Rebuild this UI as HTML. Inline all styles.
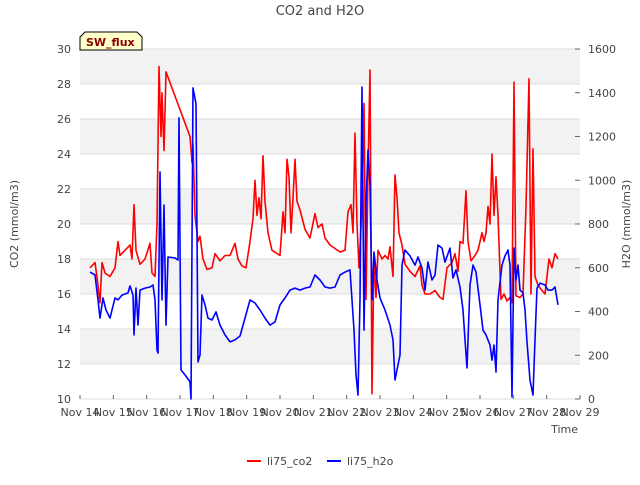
<!DOCTYPE html>
<html><head><meta charset="utf-8"><style>
body{margin:0;background:#fff;font-family:"Liberation Sans","DejaVu Sans",sans-serif}
svg text{font-family:"DejaVu Sans","Liberation Sans",sans-serif;fill:#444}
</style></head><body>
<svg id="chart" width="640" height="480">
<text x="320" y="15" text-anchor="middle" font-size="13">CO2 and H2O</text>
<g id="bands"></g><g id="grid"></g>
<g id="series"></g>
<g id="axes"></g>
<g>
<path d="M80,50 L80,37 L85,32 L137,32 L142,37 L142,50 Z" fill="#ffffcc" stroke="#000" stroke-width="1"/>
<text x="86" y="46" font-size="11" font-weight="bold" style="fill:#8b0000">SW_flux</text>
</g>
<text transform="translate(18,224) rotate(-90)" text-anchor="middle" font-size="11">CO2 (mmol/m3)</text>
<text transform="translate(630,224) rotate(-90)" text-anchor="middle" font-size="11">H2O (mmol/m3)</text>
<text x="578" y="433" text-anchor="end" font-size="11">Time</text>
<g><line x1="247" y1="461" x2="261" y2="461" stroke="#f00" stroke-width="2"/><text x="267" y="465" font-size="11">li75_co2</text></g>
<g><line x1="327" y1="461" x2="341" y2="461" stroke="#00f" stroke-width="2"/><text x="347" y="465" font-size="11">li75_h2o</text></g>
</svg>
<script>
const xTickLabels=["Nov 14","Nov 15","Nov 16","Nov 17","Nov 18","Nov 19","Nov 20","Nov 21","Nov 22","Nov 23","Nov 24","Nov 25","Nov 26","Nov 27","Nov 28","Nov 29"];
const leftTicks=[10,12,14,16,18,20,22,24,26,28,30];
const rightTicks=[0,200,400,600,800,1000,1200,1400,1600];
const co2Days=[0.3,0.45,0.54,0.6,0.66,0.75,0.9,1.05,1.14,1.2,1.35,1.5,1.56,1.62,1.68,1.8,1.95,2.1,2.16,2.25,2.31,2.37,2.43,2.46,2.52,2.58,3.3,3.36,3.39,3.45,3.54,3.6,3.69,3.81,3.96,4.05,4.2,4.35,4.5,4.65,4.74,4.86,4.98,5.1,5.19,5.25,5.31,5.37,5.43,5.49,5.55,5.64,5.76,6.0,6.09,6.15,6.21,6.27,6.33,6.39,6.45,6.51,6.6,6.75,6.9,7.05,7.14,7.26,7.35,7.5,7.65,7.8,7.95,8.04,8.13,8.19,8.25,8.31,8.37,8.46,8.52,8.58,8.64,8.7,8.76,8.82,8.88,8.94,9.06,9.15,9.24,9.3,9.39,9.45,9.51,9.57,9.66,9.75,9.9,10.05,10.2,10.26,10.35,10.5,10.65,10.8,10.89,11.01,11.16,11.25,11.34,11.4,11.49,11.58,11.64,11.73,11.85,11.94,12.06,12.12,12.18,12.24,12.3,12.36,12.42,12.48,12.54,12.63,12.72,12.81,12.9,12.96,13.02,13.08,13.2,13.29,13.38,13.47,13.53,13.59,13.65,13.74,13.86,13.95,14.07,14.16,14.25,14.34];
const co2Values=[17.5,17.8,16.5,15.5,17.8,17.2,17,17.5,19,18.2,18.5,18.8,18,21.1,18.5,17.7,18,18.9,17.2,17,20,29,25,27.5,24.2,28.7,25,23.5,24.6,20.5,19,19.3,18,17.4,17.5,18.3,17.9,18.2,18.2,18.9,18,17.6,17.5,19,20.3,22.5,20.5,21.5,20.3,23.9,21.3,19.5,18.5,18.2,20.7,19.5,23.7,22.7,19.5,21.5,23.7,21.3,20.8,19.7,19.2,20.6,19.8,20,19.2,18.8,18.6,18.4,18.5,20.7,21.1,19.5,25.2,20,17.5,21,26.9,15.7,23,28.8,10.3,18.2,15.8,18.5,18,18.2,18,18.7,17,22.8,21.5,19.5,18.8,17.7,17.3,17,17.6,16.5,16,16,16.2,15.8,15.7,17.5,17.8,18.3,17.3,19,18.9,21.9,19,17.9,18.2,18.5,19.5,19,19.5,21,20,24,20.5,22.7,20.5,15.7,16,15.6,15.8,15.5,28.1,15.9,15.8,16,21,28.3,16,24.3,17,16.5,16.2,16,18,17.5,18.3,18];
const h2oDays=[0.3,0.45,0.54,0.6,0.69,0.78,0.9,1.05,1.14,1.26,1.44,1.5,1.59,1.62,1.68,1.74,1.8,1.95,2.1,2.19,2.25,2.31,2.34,2.4,2.46,2.52,2.58,2.64,2.85,2.94,2.97,3.03,3.15,3.3,3.33,3.39,3.48,3.54,3.6,3.66,3.75,3.84,3.96,4.08,4.2,4.35,4.5,4.65,4.8,4.95,5.1,5.25,5.4,5.55,5.7,5.85,6.0,6.15,6.3,6.45,6.6,6.75,6.9,7.05,7.2,7.35,7.5,7.65,7.8,7.95,8.1,8.16,8.22,8.28,8.34,8.4,8.46,8.52,8.58,8.64,8.7,8.76,8.82,8.91,9.0,9.15,9.3,9.39,9.45,9.51,9.6,9.66,9.75,9.9,10.05,10.14,10.26,10.35,10.44,10.56,10.65,10.74,10.86,10.95,11.1,11.19,11.28,11.4,11.49,11.55,11.61,11.7,11.79,11.88,12.0,12.09,12.18,12.3,12.36,12.42,12.48,12.54,12.66,12.75,12.84,12.9,12.96,13.02,13.08,13.14,13.2,13.29,13.35,13.41,13.5,13.59,13.65,13.71,13.8,13.95,14.04,14.16,14.25,14.34];
const h2oValues=[580,567,453,370,462,407,370,462,453,475,485,517,475,293,507,338,498,507,512,521,453,224,210,1038,453,887,338,649,645,635,1285,133,110,78,0,1422,1349,169,201,475,430,370,361,398,338,293,261,270,288,370,453,439,407,370,338,352,430,462,498,507,498,507,512,567,544,512,507,512,567,580,590,453,315,110,18,453,1426,315,887,1138,978,453,672,544,462,407,338,270,87,133,201,612,681,654,612,649,599,498,626,544,567,704,690,626,690,553,590,512,407,270,142,521,612,580,430,315,293,247,178,247,123,453,612,654,681,612,9,690,544,612,498,485,407,261,87,18,270,507,530,521,498,498,512,430];

const NS="http://www.w3.org/2000/svg";
const L=80,R=580,T=49,B=399;
const xs=d=>L+(R-L)*d/15;
const yl=v=>B-(B-T)*(v-10)/20;
const yr=v=>B-(B-T)*v/1600;
function mk(tag,attrs,parent){const e=document.createElementNS(NS,tag);for(const k in attrs)e.setAttribute(k,attrs[k]);document.getElementById(parent).appendChild(e);return e;}
// bands
for(let v=12;v<30;v+=4){
 const b=mk('rect',{x:L,y:yl(v+2),width:R-L,height:yl(v)-yl(v+2),fill:'#f2f2f2'},'bands');
 
 
}
leftTicks.forEach(v=>{
 const g=mk('line',{x1:L,x2:R,y1:yl(v),y2:yl(v),stroke:'#dcdcdc','stroke-width':1},'grid');
 
 
 const t=mk('text',{x:L-9,y:yl(v)+4,'text-anchor':'end','font-size':11},'axes');t.textContent=v;
 
 
});
rightTicks.forEach(v=>{
 const t=mk('text',{x:R+8,y:yr(v)+4,'font-size':11},'axes');t.textContent=v;
 
 
 mk('line',{x1:R,x2:R-5,y1:yr(v),y2:yr(v),stroke:'#666'},'axes');
});
xTickLabels.forEach((s,i)=>{
 const t=mk('text',{x:xs(i),y:416,'text-anchor':'middle','font-size':11},'axes');t.textContent=s;
 
 
 mk('line',{x1:xs(i),x2:xs(i),y1:B,y2:B-4,stroke:'#666'},'axes');
});
function line(days,vals,yf,color,name){
 const d=days.map((t,i)=>(i?'L':'M')+xs(t).toFixed(1)+','+yf(vals[i]).toFixed(1)).join('');
 const p=mk('path',{d:d,fill:'none',stroke:color,'stroke-width':1.6,'stroke-linejoin':'round'},'series');
 
 
}
line(co2Days,co2Values,yl,'#ff0000','co2-line');
line(h2oDays,h2oValues,yr,'#0000ff','h2o-line');
</script>
</body></html>
